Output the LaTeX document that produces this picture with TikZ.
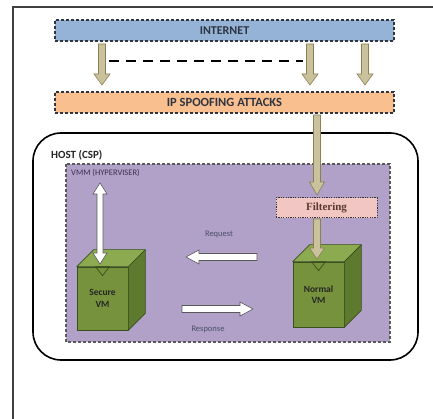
\documentclass[tikz,border=0pt]{standalone}
\usepackage{fontspec}
\setmainfont{Carlito}
\newfontfamily\serifb{Liberation Serif}
\usetikzlibrary{calc}
\definecolor{netblue}{HTML}{95B3D7}
\definecolor{ipor}{HTML}{FABF8F}
\definecolor{khaki}{HTML}{C9C29C}
\definecolor{khakiedge}{HTML}{8A8050}
\definecolor{vmmpurple}{HTML}{B1A0C7}
\definecolor{cubefront}{HTML}{76923C}
\definecolor{cubetop}{HTML}{8CAB50}
\definecolor{cubeside}{HTML}{5E7A2E}
\definecolor{cubeedge}{HTML}{3A4F1E}
\definecolor{filterpink}{HTML}{F2C6C2}
\definecolor{boxedge}{HTML}{2E3440}
\definecolor{labelgray}{HTML}{4A5068}
\definecolor{vmmtext}{HTML}{3F3151}
\definecolor{filtertext}{HTML}{5A3A30}
\newcommand{\blockarrow}[6]{%
  \coordinate (ba-h) at ($(#3)!#6!(#2)$);
  \draw[#1] ($(#2)!#4!90:(#3)$) -- ($(ba-h)!#4!90:(#3)$) -- ($(ba-h)!#5!90:(#3)$) -- (#3)
    -- ($(ba-h)!#5!-90:(#3)$) -- ($(ba-h)!#4!-90:(#3)$) -- ($(#2)!#4!-90:(#3)$) -- cycle;
}
\newcommand{\dblblockarrow}[6]{%
  \coordinate (ba-h) at ($(#3)!#6!(#2)$);
  \coordinate (ba-g) at ($(#2)!#6!(#3)$);
  \draw[#1] (#2) -- ($(ba-g)!#5!90:(#3)$) -- ($(ba-g)!#4!90:(#3)$) -- ($(ba-h)!#4!90:(#3)$)
    -- ($(ba-h)!#5!90:(#3)$) -- (#3) -- ($(ba-h)!#5!-90:(#3)$) -- ($(ba-h)!#4!-90:(#3)$)
    -- ($(ba-g)!#4!-90:(#3)$) -- ($(ba-g)!#5!-90:(#3)$) -- cycle;
}
\newcommand{\cubesides}[1]{%
  \draw[cubepart, fill=cubetop] (#1.north west) -- ++(17,-17) -- ($(#1.north east)+(17,-17)$) -- (#1.north east) -- cycle;
  \draw[cubepart, fill=cubeside] (#1.north east) -- ++(17,-17) -- ($(#1.south east)+(17,-17)$) -- (#1.south east) -- cycle;
  \draw[cubepart] ($(#1.north)+(-7,0)$) -- ($(#1.north)+(7,0)$) -- ($(#1.north)+(0,9)$) -- cycle;
}
\tikzset{
  bandbox/.style={draw=boxedge, line width=1.1pt, dash pattern=on 3pt off 2pt, inner sep=0pt, font=\bfseries\fontsize{12}{13}\selectfont, text=boxedge},
  khakiarrow/.style={fill=khaki, draw=khakiedge, line width=0.6pt},
  whitearrow/.style={fill=white, draw=gray!70!black, line width=0.6pt},
  cubepart/.style={draw=cubeedge, line width=0.7pt, line join=round},
  cubefrontst/.style={cubepart, fill=cubefront, inner sep=0pt, align=center, font=\bfseries\fontsize{9.5}{11.5}\selectfont, text=black!85},
  smalllabel/.style={font=\fontsize{8.5}{9}\selectfont, text=labelgray, inner sep=0pt},
}
\begin{document}
\begin{tikzpicture}[x=1pt, y=-1pt]
\useasboundingbox[fill=white] (0,0) rectangle (433,419);
% outer frame (extends past picture)
\draw[line width=1.2pt, black!75] (13,430) -- (13,7) -- (445,7);
% top bands
\node[bandbox, fill=netblue, minimum width=339, minimum height=21] (internet) at (224.5,30.5) {INTERNET};
\node[bandbox, fill=ipor, minimum width=339, minimum height=21, font=\bfseries\fontsize{12.5}{13}\selectfont] (ipspoof) at (224.5,102.5) {IP SPOOFING ATTACKS};
% host
\draw[line width=1.6pt, rounded corners=28pt] (33,133) rectangle (418,360);
\node[anchor=west, font=\bfseries\fontsize{11}{12}\selectfont, inner sep=0pt, text=black!85] (host) at (51,155) {HOST (CSP)};
% VMM
\draw[draw=black!65, line width=1.1pt, dash pattern=on 3pt off 2pt, fill=vmmpurple] (66,164) rectangle (390,342);
\node[anchor=west, font=\fontsize{8.5}{9}\selectfont, inner sep=0pt, text=vmmtext] (vmm) at (71,173) {VMM (HYPERVISER)};
% filtering
\node[draw=black!80, line width=1pt, dash pattern=on 1.2pt off 1.2pt, fill=filterpink, minimum width=101, minimum height=20, inner sep=0pt, font=\serifb\bfseries\fontsize{11}{12}\selectfont, text=filtertext] (filter) at (326.5,208) {Filtering};
% cubes
\node[cubefrontst, minimum width=51, minimum height=63] (secure) at (102.5,298.5) {Secure\\VM};
\cubesides{secure}
\node[cubefrontst, minimum width=51, minimum height=65] (normal) at (318.5,294.5) {Normal\\VM};
\cubesides{normal}
% internet arrows
\coordinate (a1s) at (102,44); \coordinate (a1e) at (102,85);
\coordinate (a2s) at (310,44); \coordinate (a2e) at (310,85);
\coordinate (a3s) at (365,44); \coordinate (a3e) at (365,85);
\blockarrow{khakiarrow}{a1s}{a1e}{3.5pt}{8pt}{11pt}
\blockarrow{khakiarrow}{a2s}{a2e}{3.5pt}{8pt}{11pt}
\blockarrow{khakiarrow}{a3s}{a3e}{3.5pt}{8pt}{11pt}
\coordinate (d1) at (109,61); \coordinate (d2) at (303,61);
\draw[line width=2pt, dash pattern=on 10pt off 7pt] (d1) -- (d2);
% spoof to filtering to normal VM
\coordinate (f1s) at (317,115); \coordinate (f1e) at (317,195);
\blockarrow{khakiarrow}{f1s}{f1e}{3.5pt}{7.5pt}{13pt}
\coordinate (f2s) at (317,219); \coordinate (f2e) at (317,259);
\blockarrow{khakiarrow}{f2s}{f2e}{3.5pt}{7.5pt}{11pt}
% secure VM double arrow
\coordinate (s1) at (100,183); \coordinate (s2) at (100,264);
\dblblockarrow{whitearrow}{s1}{s2}{3pt}{7pt}{11pt}
% request / response
\coordinate (rq1) at (257,257); \coordinate (rq2) at (186,257);
\blockarrow{whitearrow}{rq1}{rq2}{3.5pt}{7pt}{13pt}
\coordinate (rs1) at (182,309); \coordinate (rs2) at (253,309);
\blockarrow{whitearrow}{rs1}{rs2}{3.5pt}{7pt}{13pt}
\node[smalllabel] (request) at (219,234) {Request};
\node[smalllabel] (response) at (208,329) {Response};
\end{tikzpicture}
\end{document}
